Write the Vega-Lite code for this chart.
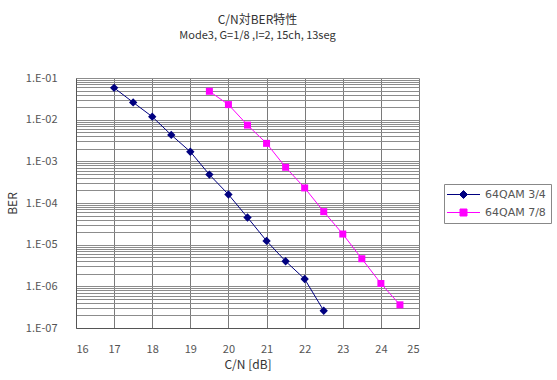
{
  "$schema": "https://vega.github.io/schema/vega-lite/v6.json",
  "width": 343,
  "height": 250,
  "autosize": {"type": "none"},
  "padding": {"left": 76, "top": 78, "right": 138, "bottom": 52},
  "background": "white",
  "config": {
    "font": "Noto Sans CJK JP",
    "view": {"stroke": null},
    "axis": {"labelFont": "Noto Sans CJK JP", "titleFont": "Noto Sans CJK JP"}
  },
  "title": {
    "text": "C/N対BER特性",
    "subtitle": "Mode3, G=1/8 ,I=2, 15ch, 13seg",
    "fontSize": 12,
    "fontWeight": "normal",
    "color": "#333333",
    "subtitleFontSize": 11,
    "subtitleColor": "#333333",
    "subtitlePadding": 3,
    "anchor": "middle",
    "dx": 10,
    "offset": 30
  },
  "data": {
    "values": [
      {"cn": 17.0, "ber": 5.8e-2, "series": "64QAM 3/4"},
      {"cn": 17.5, "ber": 2.6e-2, "series": "64QAM 3/4"},
      {"cn": 18.0, "ber": 1.18e-2, "series": "64QAM 3/4"},
      {"cn": 18.5, "ber": 4.3e-3, "series": "64QAM 3/4"},
      {"cn": 19.0, "ber": 1.7e-3, "series": "64QAM 3/4"},
      {"cn": 19.5, "ber": 4.8e-4, "series": "64QAM 3/4"},
      {"cn": 20.0, "ber": 1.6e-4, "series": "64QAM 3/4"},
      {"cn": 20.5, "ber": 4.5e-5, "series": "64QAM 3/4"},
      {"cn": 21.0, "ber": 1.23e-5, "series": "64QAM 3/4"},
      {"cn": 21.5, "ber": 4.0e-6, "series": "64QAM 3/4"},
      {"cn": 22.0, "ber": 1.5e-6, "series": "64QAM 3/4"},
      {"cn": 22.5, "ber": 2.6e-7, "series": "64QAM 3/4"},
      {"cn": 19.5, "ber": 4.8e-2, "series": "64QAM 7/8"},
      {"cn": 20.0, "ber": 2.3e-2, "series": "64QAM 7/8"},
      {"cn": 20.5, "ber": 7.4e-3, "series": "64QAM 7/8"},
      {"cn": 21.0, "ber": 2.7e-3, "series": "64QAM 7/8"},
      {"cn": 21.5, "ber": 7.2e-4, "series": "64QAM 7/8"},
      {"cn": 22.0, "ber": 2.3e-4, "series": "64QAM 7/8"},
      {"cn": 22.5, "ber": 6.2e-5, "series": "64QAM 7/8"},
      {"cn": 23.0, "ber": 1.8e-5, "series": "64QAM 7/8"},
      {"cn": 23.5, "ber": 4.6e-6, "series": "64QAM 7/8"},
      {"cn": 24.0, "ber": 1.17e-6, "series": "64QAM 7/8"},
      {"cn": 24.5, "ber": 3.6e-7, "series": "64QAM 7/8"}
    ]
  },
  "encoding": {
    "x": {
      "field": "cn",
      "type": "quantitative",
      "scale": {"domain": [16, 25], "nice": false, "zero": false},
      "axis": {
        "title": "C/N [dB]",
        "values": [16, 17, 18, 19, 20, 21, 22, 23, 24, 25],
        "grid": true,
        "gridColor": "#7a7a7a",
        "gridWidth": 1,
        "ticks": false,
        "domainColor": "#555555",
        "labelColor": "#555555",
        "labelFontSize": 11,
        "labelPadding": 15,
        "titleFontSize": 12,
        "titleFontWeight": "normal",
        "titleColor": "#333333",
        "titlePadding": 5
      }
    },
    "y": {
      "field": "ber",
      "type": "quantitative",
      "scale": {"type": "log", "domain": [1e-7, 1e-1], "nice": false},
      "axis": {
        "title": "BER",
        "values": [1e-7, 2e-7, 3e-7, 4e-7, 5e-7, 6e-7, 7e-7, 8e-7, 9e-7,
                   1e-6, 2e-6, 3e-6, 4e-6, 5e-6, 6e-6, 7e-6, 8e-6, 9e-6,
                   1e-5, 2e-5, 3e-5, 4e-5, 5e-5, 6e-5, 7e-5, 8e-5, 9e-5,
                   1e-4, 2e-4, 3e-4, 4e-4, 5e-4, 6e-4, 7e-4, 8e-4, 9e-4,
                   1e-3, 2e-3, 3e-3, 4e-3, 5e-3, 6e-3, 7e-3, 8e-3, 9e-3,
                   1e-2, 2e-2, 3e-2, 4e-2, 5e-2, 6e-2, 7e-2, 8e-2, 9e-2, 1e-1],
        "labelExpr": "abs(log(datum.value)/LN10 - round(log(datum.value)/LN10)) < 0.01 ? '1.E-0' + (-round(log(datum.value)/LN10)) : ''",
        "labelOverlap": false,
        "labelBound": false,
        "grid": true,
        "gridColor": "#8c8c8c",
        "gridWidth": 1,
        "ticks": false,
        "domainColor": "#555555",
        "labelColor": "#555555",
        "labelFontSize": 11,
        "labelPadding": 19,
        "titleFontSize": 12,
        "titleFontWeight": "normal",
        "titleColor": "#333333",
        "titlePadding": 6
      }
    }
  },
  "layer": [
    {
      "mark": {"type": "line", "strokeWidth": 1},
      "encoding": {
        "color": {
          "field": "series",
          "type": "nominal",
          "scale": {"domain": ["64QAM 3/4", "64QAM 7/8"], "range": ["#000080", "#ff00ff"]},
          "legend": {
            "title": null,
            "orient": "none",
            "legendX": 368,
            "legendY": 106,
            "padding": 5,
            "strokeColor": "#888888",
            "labelColor": "#555555",
            "labelFont": "DejaVu Sans",
            "labelFontSize": 11,
            "symbolSize": 100,
            "symbolStrokeWidth": 1,
            "symbolOffset": 9,
            "rowPadding": 5,
            "labelOffset": 16,
            "encode": {
              "symbols": {
                "update": {
                  "shape": {"signal": "datum.value === '64QAM 3/4' ? 'M-3.3,0H3.3M0,-0.8L0.8,0L0,0.8L-0.8,0Z' : 'M-3.3,0H3.3M-0.7,-0.7H0.7V0.7H-0.7Z'"},
                  "fill": {"signal": "datum.value === '64QAM 3/4' ? '#000080' : '#ff00ff'"}
                }
              }
            }
          }
        }
      }
    },
    {
      "transform": [{"filter": "datum.series === '64QAM 3/4'"}],
      "mark": {"type": "point", "filled": true, "opacity": 1, "shape": "diamond", "size": 70, "color": "#000080"}
    },
    {
      "transform": [{"filter": "datum.series === '64QAM 7/8'"}],
      "mark": {"type": "point", "filled": true, "opacity": 1, "shape": "square", "size": 49, "color": "#ff00ff"}
    }
  ]
}
